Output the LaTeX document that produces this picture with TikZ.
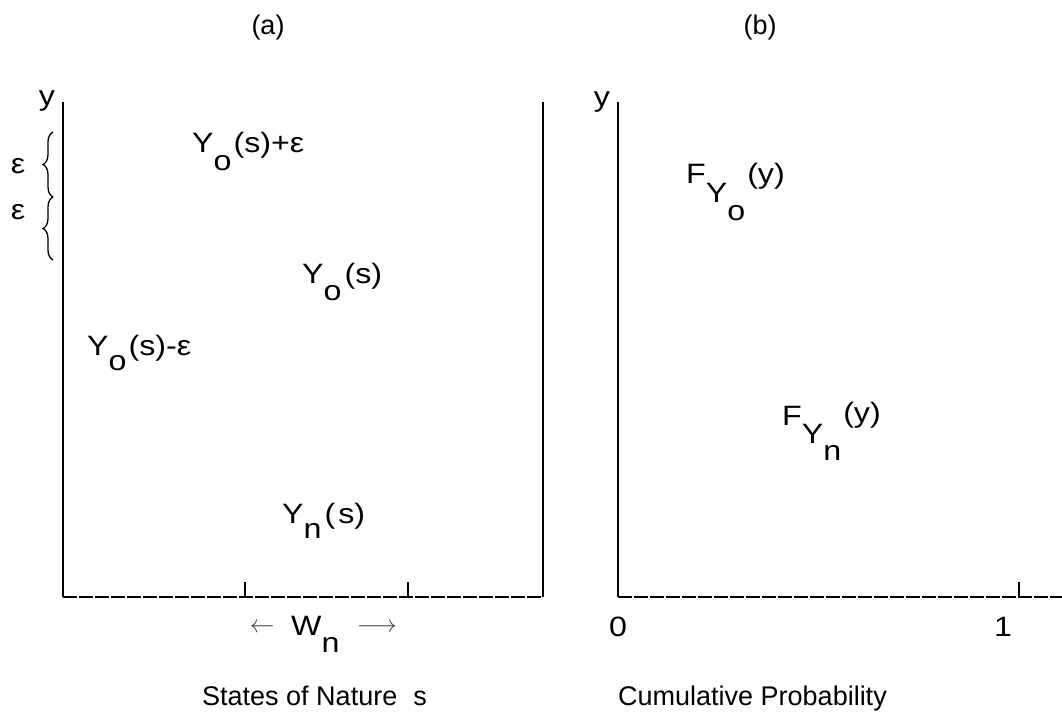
\documentclass[tikz,border=0pt]{standalone}
\usepackage{fontspec}
\setmainfont{Liberation Sans}
\newfontfamily\lblfont[FakeStretch=1.15]{Liberation Sans}
\usetikzlibrary{decorations.pathreplacing}
\newcommand{\lowr}[2]{\raisebox{-#1}{#2}}
\begin{document}
\begin{tikzpicture}[x=1pt,y=-1pt,
  font=\fontsize{27pt}{32pt}\selectfont,
  axis/.style={line width=2pt},
  baseaxis/.style={line width=2.5pt, dash pattern=on 14pt off 2pt},
  tickmark/.style={line width=2pt},
  lbl/.style={inner sep=0pt, anchor=base west, font=\lblfont\fontsize{28pt}{32pt}\selectfont},
  plain/.style={inner sep=0pt, font=\lblfont\fontsize{28pt}{32pt}\selectfont},
  title/.style={inner sep=0pt},
  epsbrace/.style={decorate, decoration={brace, amplitude=10pt}, line width=1.3pt},
  arrowtxt/.style={inner sep=0pt, text=black!75}]
\useasboundingbox (0,0) rectangle (1062,714);
% panel (a) axes
\coordinate (aTL) at (63,102);
\coordinate (aBL) at (63,597);
\coordinate (aBR) at (543,597);
\coordinate (aTR) at (543,102);
\draw[axis] (aTL) -- (aBL);
\draw[axis] (aTR) -- (aBR);
\draw[baseaxis] (aBL) -- (aBR);
\coordinate (ta1) at (245,597); \coordinate (ta1t) at (245,582);
\coordinate (ta2) at (408,597); \coordinate (ta2t) at (408,582);
\draw[tickmark] (ta1) -- (ta1t);
\draw[tickmark] (ta2) -- (ta2t);
% panel (b) axes
\coordinate (bTL) at (618,102);
\coordinate (bBL) at (618,597);
\coordinate (bBR) at (1062,597);
\draw[axis] (bTL) -- (bBL);
\draw[baseaxis] (bBL) -- (bBR);
\coordinate (tb1) at (1019,597); \coordinate (tb1t) at (1019,582);
\draw[tickmark] (tb1) -- (tb1t);
% braces
\coordinate (br1a) at (53,197); \coordinate (br1b) at (53,132);
\coordinate (br2a) at (53,260); \coordinate (br2b) at (53,197);
\draw[epsbrace] (br1a) -- (br1b);
\draw[epsbrace] (br2a) -- (br2b);
\node[plain] (e1) at (18,166) {ε};
\node[plain] (e2) at (18,212) {ε};
% titles
\node[title] (ta) at (268,28) {(a)};
\node[title] (tb) at (760,28) {(b)};
\node[lbl, anchor=base] (ya) at (47,106) {y};
\node[lbl, anchor=base] (yb) at (602,107) {y};
% panel (a) labels
\node[lbl] (yplus) at (192,153) {Y\lowr{18pt}{o}\hspace{2pt}(s)+ε};
\node[lbl] (yo) at (302,283) {Y\lowr{17pt}{o}\hspace{3pt}(s)};
\node[lbl] (yminus) at (87,355) {Y\lowr{15pt}{o}\hspace{2pt}(s)-ε};
\node[lbl] (yn) at (282,523) {Y\lowr{15pt}{n}\hspace{3pt}(\hspace{3pt}s)};
\node[arrowtxt] (larr) at (262,628) {$\leftarrow$};
\node[lbl] (wn) at (291,635) {W\lowr{17pt}{n}};
\node[arrowtxt] (rarr) at (377,628) {$\longrightarrow$};
\node[title, anchor=base east] (sa) at (427,705) {States of Nature\hspace{16pt}s};
% panel (b) labels
\node[lbl] (fo) at (686,183) {F\lowr{20pt}{Y\lowr{17pt}{o}}\hspace{2pt}(y)};
\node[lbl] (fn) at (782,425) {F\lowr{18pt}{Y\lowr{17pt}{n}}\hspace{2pt}\raisebox{3pt}{(y)}};
\node[plain] (zero) at (618,627) {0};
\node[plain] (one) at (1003,627) {1};
\node[title, anchor=base west] (cp) at (618,705) {Cumulative Probability};
\end{tikzpicture}
\end{document}
